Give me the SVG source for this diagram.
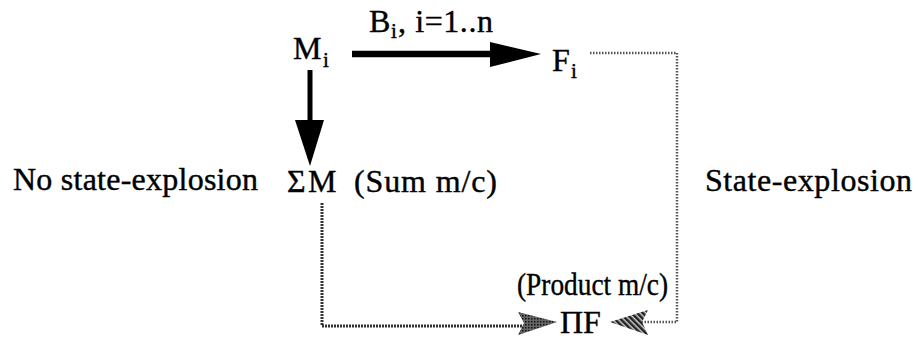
<svg xmlns="http://www.w3.org/2000/svg" width="918" height="339" viewBox="0 0 918 339">
<defs>
<style>
text{font-family:"Liberation Serif","Times New Roman",serif;fill:#000;stroke:#000;stroke-width:0.4}
.t{font-size:32px}
.s{font-size:21px}
.dash{fill:none;stroke:#333;stroke-width:3;stroke-dasharray:2 1}
.dot{fill:none;stroke:#555;stroke-width:2.5;stroke-dasharray:1.5 1.5}
</style>
<pattern id="hatch" width="4" height="4" patternUnits="userSpaceOnUse" patternTransform="rotate(-45)">
<rect width="4" height="4" fill="#ccc"/>
<rect width="2.5" height="4" fill="#222"/>
</pattern>
<pattern id="dots" width="3" height="3" patternUnits="userSpaceOnUse">
<rect width="3" height="3" fill="#666"/>
<rect width="1.5" height="1.5" fill="#111"/>
</pattern>
</defs>
<g id="connectors">
<line x1="352" y1="54" x2="495" y2="54" stroke="#000" stroke-width="6.5"/>
<polygon points="490,42 541,54 490,67" fill="#000"/>
<line x1="310" y1="70" x2="310" y2="125" stroke="#000" stroke-width="5"/>
<polygon points="295,120 324,120 310,166" fill="#000"/>
<polyline class="dash" points="322,203 322,326 530,326"/>
<polygon points="518,312 557,322 518,335 524,323" fill="url(#dots)"/>
<polyline class="dot" points="590,53 677,53 677,322 640,322"/>
<polygon points="648,310 610,322 648,335 642,322" fill="url(#hatch)"/>
</g>
<g id="node-Mi"><text class="t" x="293" y="59">M</text><text class="s" x="323" y="67">i</text></g>
<g id="label-Bi"><text class="t" x="369" y="32">B</text><text class="s" x="391" y="38">i</text><text class="t" x="398" y="32" textLength="95">, i=1..n</text></g>
<g id="node-Fi"><text class="t" x="552" y="71">F</text><text class="s" x="571" y="78">i</text></g>
<g id="node-SumM"><text class="t" x="287" y="192" font-size="31">Σ</text><text class="t" x="308" y="192" font-size="34">M</text><text class="t" x="354" y="192" textLength="143">(Sum m/c)</text></g>
<g id="node-ProdF"><text class="t" x="560" y="333">ΠF</text></g>
<text class="t" x="517" y="295" font-size="30" textLength="151" lengthAdjust="spacingAndGlyphs">(Product m/c)</text>
<text class="t" x="13" y="190" textLength="245">No state-explosion</text>
<text class="t" x="705" y="191" textLength="207">State-explosion</text>
</svg>
